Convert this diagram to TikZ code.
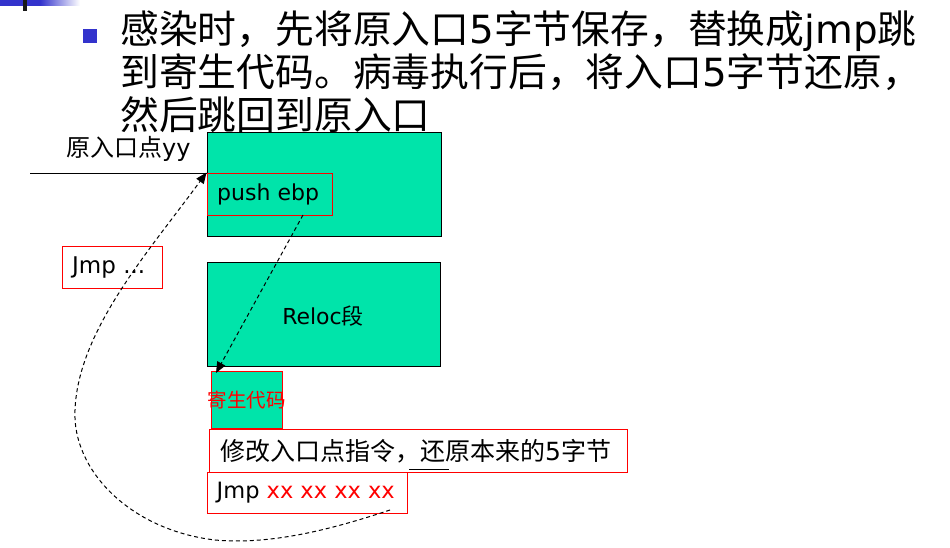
\documentclass[tikz,border=0pt]{standalone}
\usepackage{fontspec}
\setmainfont{DejaVu Sans}
\newfontfamily\cjk{Noto Sans CJK SC}
\usetikzlibrary{arrows.meta}
\definecolor{tealgreen}{RGB}{0,228,170}
\definecolor{bulletblue}{RGB}{51,51,204}
\tikzset{
  greenbox/.style={draw=black, fill=tealgreen, line width=1.2pt, inner sep=0pt, anchor=north west},
  redbox/.style={draw=red, line width=1pt, inner sep=0pt, anchor=north west},
  txt/.style={inner sep=0pt, anchor=west},
  title/.style={inner sep=0pt, anchor=base west, font=\fontsize{38.8}{43}\selectfont},
  dashconn/.style={draw=black, line width=1pt, dash pattern=on 4pt off 3pt},
  tip/.style={-{Triangle[length=11pt,width=9pt]}}
}
\begin{document}
\begin{tikzpicture}[x=1pt,y=-1pt]
\useasboundingbox (0,0) rectangle (950,548);
% top-left decoration
\fill[bulletblue] (0,0) rectangle (40,6);
\shade[left color=bulletblue, right color=white] (40,0) rectangle (80,6);
\fill[black!90] (23,0) rectangle (27,11);
% bullet and title
\fill[bulletblue] (83,29) rectangle (97,43);
\node[title] (t1) at (120,44) {{\cjk 感染时，先将原入口}5{\cjk 字节保存，替换成}jmp{\cjk 跳}};
\node[title] (t2) at (120,87) {{\cjk 到寄生代码。病毒执行后，将入口}5{\cjk 字节还原，}};
\node[title] (t3) at (120,130) {{\cjk 然后跳回到原入口}};
% boxes
\node[greenbox, minimum width=234, minimum height=104] (top) at (207,132) {};
\node[redbox, minimum width=125, minimum height=42] (push) at (207,173) {};
\node[txt, font=\fontsize{22}{26}\selectfont] (pushtxt) at ([xshift=10pt]push.west) {push ebp};
\node[greenbox, minimum width=233, minimum height=104] (reloc) at (207,262) {};
\node[inner sep=0pt, font=\fontsize{22}{26}\selectfont] (reloctxt) at (323,316) {Reloc{\cjk 段}};
\node[greenbox, draw=red, line width=1pt, minimum width=71, minimum height=57] (para) at (211,371) {};
\node[inner sep=0pt, text=red, font=\cjk\fontsize{19.5}{22}\selectfont] (paratxt) at (246.5,400) {寄生代码};
\node[redbox, fill=white, minimum width=418, minimum height=43] (modify) at (209,429) {};
\node[txt, font=\fontsize{25}{28}\selectfont] (modtxt) at ([xshift=11pt]modify.west) {{\cjk 修改入口点指令，还原本来的}5{\cjk 字节}};
\node[redbox, fill=white, minimum width=200, minimum height=41] (jmpx) at (207,472) {};
\node[txt, font=\fontsize{22.5}{26}\selectfont] (jmpxtxt) at ([xshift=9.5pt]jmpx.west) {Jmp \textcolor{red}{xx xx xx xx}};
\node[redbox, minimum width=100, minimum height=42] (jmpl) at (62,246) {};
\node[txt, font=\fontsize{23}{26}\selectfont] (jmpltxt) at ([xshift=10pt]jmpl.west) {Jmp ...};
% label of entry
\node[txt, font=\fontsize{24}{27}\selectfont] (entrylbl) at (66,149) {{\cjk 原入口点}yy};
% small underline mark
\coordinate (ul1) at (409,469.5);
\coordinate (ul2) at (449,469.5);
\draw[line width=1pt] (ul1) -- (ul2);
% connectors
\coordinate (in) at (30,174);
\coordinate (entry) at (206.5,172.5);
\draw[line width=1pt] (in) -- (in -| top.west);
\coordinate (cstart) at (390,510);
\draw[dashconn, tip] (cstart) .. controls (330,530) and (270,545) .. (215,540)
   .. controls (130,530) and (72,470) .. (75,410)
   .. controls (78,330) and (150,250) .. (entry);
\coordinate (p1) at (303,215);
\coordinate (p2) at (216,373);
\draw[dashconn, tip] (p1) -- (p2);
\end{tikzpicture}
\end{document}
